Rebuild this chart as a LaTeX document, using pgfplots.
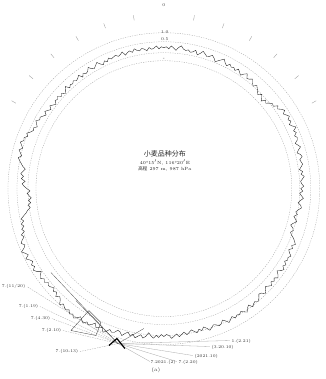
\documentclass[border=0pt]{standalone}
\usepackage{pgfplots}
\pgfplotsset{compat=1.18}
\usepackage{pgfplotstable}
\usepackage{fontspec}
\newfontfamily\cjk{Noto Sans CJK SC}
\pgfplotstableread[row sep=\\]{
t r\\
0 141\\1 142\\2 140\\3 143\\4 141\\5 139\\6 142\\7 144\\8 141\\9 140\\
10 141\\11 139\\12 140\\13 142\\14 138\\15 140\\16 143\\17 141\\18 139\\19 140\\
20 142\\21 140\\22 137\\23 139\\24 141\\25 143\\26 140\\27 138\\28 141\\29 139\\
30 140\\31 138\\32 141\\33 139\\34 137\\35 140\\36 142\\37 138\\38 139\\39 141\\
40 138\\41 136\\42 139\\43 137\\44 135\\45 133\\46 136\\47 134\\48 131\\49 135\\
50 133\\51 136\\52 138\\53 137\\54 141\\55 139\\56 142\\57 144\\58 141\\59 143\\
60 145\\61 142\\62 144\\63 141\\64 143\\65 146\\66 142\\67 144\\68 141\\69 143\\
70 142\\71 139\\72 141\\73 143\\74 140\\75 138\\76 141\\77 142\\78 139\\79 140\\
80 141\\81 139\\82 137\\83 140\\84 138\\85 141\\86 139\\87 137\\88 138\\89 140\\
90 137\\91 139\\92 136\\93 138\\94 140\\95 137\\96 135\\97 138\\98 139\\99 136\\
100 134\\101 136\\102 133\\103 135\\104 137\\105 134\\106 132\\107 135\\108 136\\109 134\\
110 136\\111 139\\112 141\\113 143\\114 140\\115 142\\116 139\\117 141\\118 144\\119 142\\
120 143\\121 141\\122 144\\123 142\\124 145\\125 143\\126 140\\127 143\\128 145\\129 142\\
130 144\\131 142\\132 145\\133 143\\134 141\\135 144\\136 146\\137 143\\138 142\\139 145\\
140 147\\141 145\\142 146\\143 148\\144 144\\145 146\\146 149\\147 147\\148 145\\149 147\\
150 146\\151 148\\152 145\\153 147\\154 149\\155 146\\156 144\\157 147\\158 148\\159 146\\
160 145\\161 147\\162 149\\163 146\\164 144\\165 147\\166 145\\167 148\\168 146\\169 144\\
170 146\\171 148\\172 145\\173 147\\174 149\\175 146\\176 148\\177 150\\178 147\\179 146\\
180 148\\181 146\\182 149\\183 147\\184 150\\185 148\\186 145\\187 149\\188 151\\189 148\\
190 150\\191 152\\192 149\\193 151\\194 148\\195 150\\196 153\\197 150\\198 149\\199 152\\
200 153\\201 151\\202 154\\203 156\\204 152\\205 153\\206 155\\207 151\\208 154\\209 156\\
210 154\\211 157\\212 155\\213 153\\214 156\\215 158\\216 155\\217 157\\218 154\\219 156\\
220 155\\221 153\\222 156\\223 152\\224 150\\225 153\\226 149\\227 151\\228 148\\229 150\\
230 151\\231 149\\232 152\\233 150\\234 153\\235 151\\236 148\\237 152\\238 154\\239 151\\
240 153\\241 150\\242 152\\243 155\\244 151\\245 153\\246 156\\247 152\\248 150\\249 153\\
250 151\\251 148\\252 150\\253 146\\254 148\\255 145\\256 147\\257 144\\258 146\\259 143\\
260 140\\261 138\\262 135\\263 137\\264 134\\265 136\\266 133\\267 135\\268 137\\269 134\\
270 137\\271 140\\272 142\\273 139\\274 143\\275 141\\276 144\\277 142\\278 140\\279 143\\
280 145\\281 147\\282 149\\283 146\\284 148\\285 150\\286 147\\287 149\\288 151\\289 148\\
290 149\\291 146\\292 148\\293 145\\294 143\\295 144\\296 141\\297 143\\298 145\\299 142\\
300 143\\301 141\\302 139\\303 142\\304 140\\305 138\\306 141\\307 139\\308 137\\309 140\\
310 139\\311 141\\312 138\\313 140\\314 137\\315 139\\316 142\\317 138\\318 140\\319 139\\
320 141\\321 139\\322 140\\323 142\\324 138\\325 141\\326 139\\327 140\\328 143\\329 140\\
330 139\\331 141\\332 143\\333 140\\334 138\\335 141\\336 139\\337 142\\338 140\\339 141\\
340 142\\341 140\\342 141\\343 143\\344 139\\345 141\\346 142\\347 140\\348 143\\349 141\\
350 140\\351 142\\352 141\\353 139\\354 142\\355 140\\356 141\\357 143\\358 140\\359 142\\
360 141\\
}\ringdata
\begin{document}
\begin{tikzpicture}
\begin{axis}[x=1pt,y=1pt,xmin=-164,xmax=162,ymin=-190.5,ymax=188.5,
  hide axis,clip=false]
\path (axis cs:-164,-190.5) rectangle (axis cs:162,188.5);
% concentric reference rings
\draw[gray!75, dash pattern=on 1.2pt off 1.2pt, line width=0.3pt] (axis cs:0,0) circle[radius=128];
\draw[gray!75, dash pattern=on 1.2pt off 1.2pt, line width=0.3pt] (axis cs:0,0) circle[radius=136];
\draw[gray!75, dash pattern=on 1.2pt off 1.2pt, line width=0.3pt] (axis cs:0,0) circle[radius=147];
\draw[gray!75, dash pattern=on 1.2pt off 1.2pt, line width=0.3pt] (axis cs:0,0) circle[radius=156];
% fan of lines in the lower left
\draw[gray!70, dash pattern=on 1.5pt off 1pt, line width=0.3pt] (axis cs:-46,-155) -- (axis cs:-137,-98);
\draw[gray!70, dash pattern=on 1.5pt off 1pt, line width=0.3pt] (axis cs:-46,-155) -- (axis cs:-124,-118);
\draw[gray!70, dash pattern=on 1.5pt off 1pt, line width=0.3pt] (axis cs:-46,-155) -- (axis cs:-112,-130);
\draw[gray!70, dash pattern=on 1.5pt off 1pt, line width=0.3pt] (axis cs:-46,-155) -- (axis cs:-101,-142);
\draw[gray!70, dash pattern=on 1.5pt off 1pt, line width=0.3pt] (axis cs:-46,-155) -- (axis cs:-84,-163);
\draw[gray!70, line width=0.3pt] (axis cs:-46,-155) -- (axis cs:-14,-173);
\draw[gray!70, line width=0.3pt] (axis cs:-46,-155) -- (axis cs:13,-173);
\draw[gray!70, line width=0.3pt] (axis cs:-46,-155) -- (axis cs:29,-167);
\draw[gray!70, line width=0.3pt] (axis cs:-46,-155) -- (axis cs:46,-158);
\draw[gray!70, line width=0.3pt] (axis cs:-46,-155) -- (axis cs:66,-152);
\draw[black!70, line width=0.3pt] (axis cs:-46,-155) -- (axis cs:-113,-84);
\draw[black!70, line width=0.3pt] (axis cs:-46,-155) -- (axis cs:-88,-112);
\draw[black!70, line width=0.3pt] (axis cs:-46,-155) -- (axis cs:-20,-140);
\draw[black!80, line width=0.3pt] (axis cs:-93,-142) -- (axis cs:-75,-122) -- (axis cs:-63,-134) -- (axis cs:-68,-147) -- cycle;
\draw[black, line width=1.2pt] (axis cs:-55,-157) -- (axis cs:-47,-150) -- (axis cs:-39,-160);
% data
\addplot[black!90, line width=0.35pt, no markers, data cs=polar]
  table[x expr={90-\thisrow{t}}, y=r]{\ringdata};
\coordinate (O) at (axis cs:0,0);
% labels
\begin{scope}[font=\fontsize{4.2}{4.5}\selectfont, text=black!80]
\node[anchor=east, inner sep=0.5pt] at (axis cs:-138,-98) {7.(11/20)};
\node[anchor=east, inner sep=0.5pt] at (axis cs:-125,-118) {7.(1.19)};
\node[anchor=east, inner sep=0.5pt] at (axis cs:-113,-130) {7.(4.30)};
\node[anchor=east, inner sep=0.5pt] at (axis cs:-102,-142) {7.(2.10)};
\node[anchor=east, inner sep=0.5pt] at (axis cs:-85,-163) {7.(10-13)};
\node[anchor=west, inner sep=0.5pt] at (axis cs:-14,-174) {7.2021.(2)};
\node[anchor=west, inner sep=0.5pt] at (axis cs:14,-174) {7.(2.20)};
\node[anchor=west, inner sep=0.5pt] at (axis cs:30,-168) {(2021.10)};
\node[anchor=west, inner sep=0.5pt] at (axis cs:47,-159) {(3.20.10)};
\node[anchor=west, inner sep=0.5pt] at (axis cs:67,-153) {1.(2.21)};
\node at (axis cs:1,157) {1.0};
\node at (axis cs:1,150) {0.5};
\node at (axis cs:0,130) {-};
\node at (axis cs:0,184) {0};
\node[font=\fontsize{5}{5}\selectfont] at (axis cs:-8,-182) {(a)};
\end{scope}
\node[font=\fontsize{7}{7}\selectfont\cjk, text=black!85] at (axis cs:1,35) {小麦品种分布};
\node[font=\fontsize{4.5}{4.5}\selectfont, text=black!85] at (axis cs:1,26) {40°15$'$N, 116°20$'$E};
\node[font=\fontsize{4.5}{4.5}\selectfont, text=black!85] at (axis cs:1,20) {{\cjk 高程} 297 m, 987 hPa};
\end{axis}
\begin{scope}[shift={(O)}]
\foreach \a in {10,20,...,60,300,310,...,350}
  \draw[gray!80, line width=0.35pt] (90-\a:171pt) -- (90-\a:176pt);
\end{scope}
\end{tikzpicture}
\end{document}
